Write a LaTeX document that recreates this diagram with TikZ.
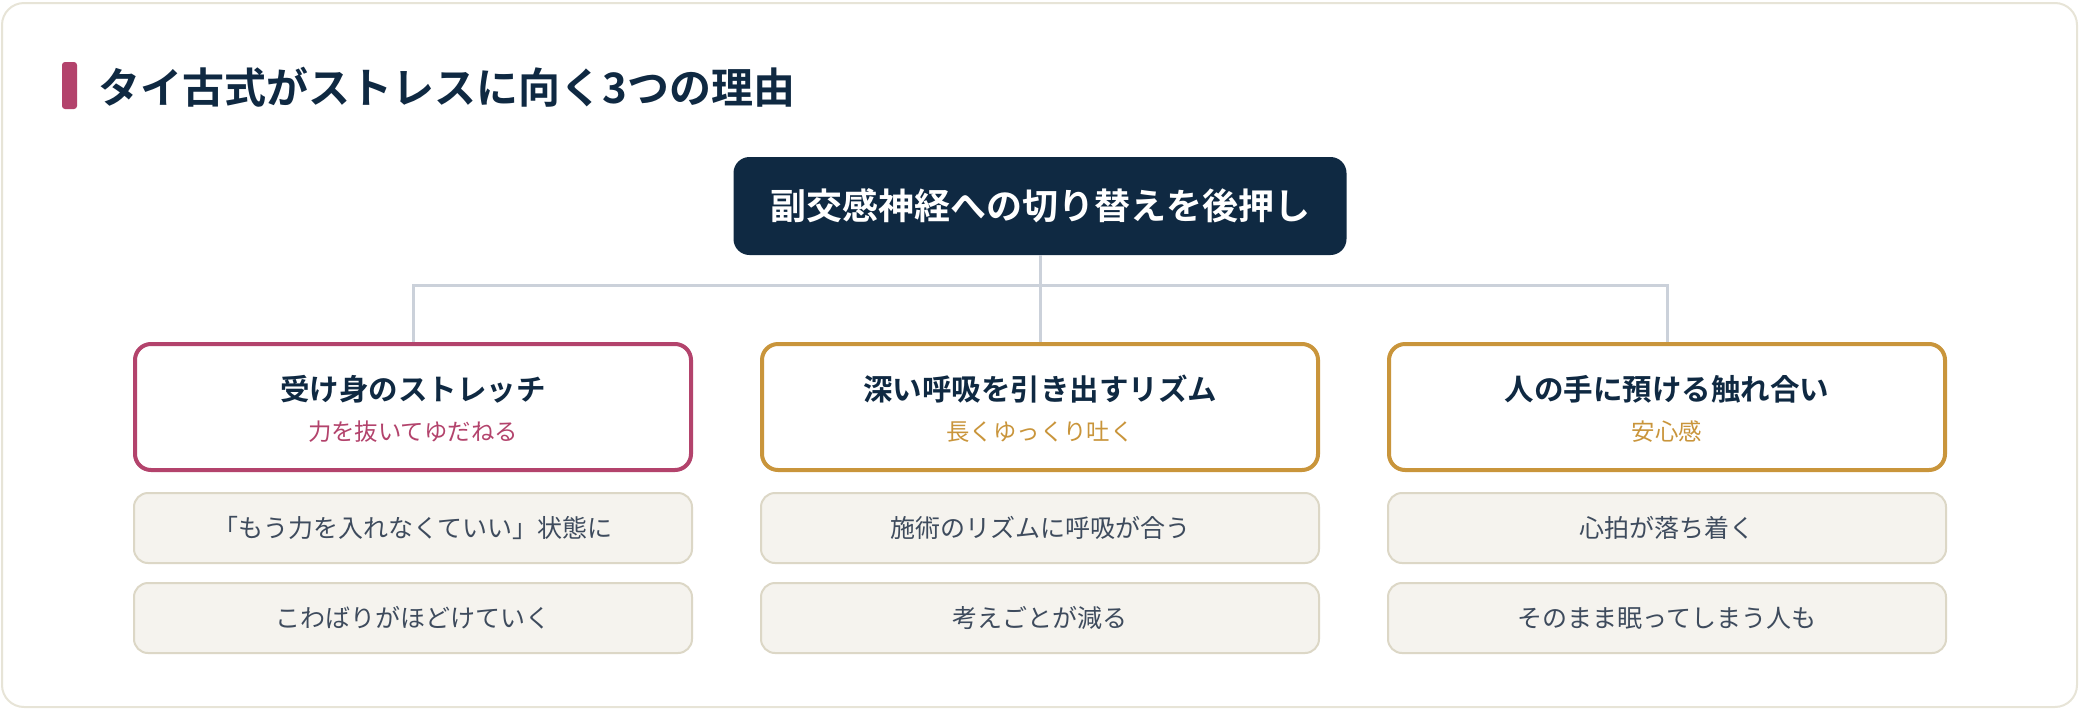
\documentclass[tikz,border=0pt]{standalone}
\usepackage{fontspec}
\setmainfont{Noto Sans CJK JP}[BoldFont={Noto Sans CJK JP Bold}]

\definecolor{navy}{HTML}{0F2942}
\definecolor{rose}{HTML}{B3436C}
\definecolor{gold}{HTML}{C9953B}
\definecolor{linkgray}{HTML}{CBD1DA}
\definecolor{pointfill}{HTML}{F5F3EE}
\definecolor{pointline}{HTML}{DCD7C6}
\definecolor{pointtext}{HTML}{3E4B5D}
\definecolor{cardline}{HTML}{E7E4D7}

\tikzset{
  rootbox/.style={fill=navy, rounded corners=16pt, minimum width=613pt, minimum height=98pt,
    text=white, font=\fontsize{36}{40}\selectfont\bfseries},
  catbox/.style={draw=#1, line width=4pt, fill=white, rounded corners=16pt,
    minimum width=556pt, minimum height=126pt},
  cattitle/.style={text=navy, font=\fontsize{29.5}{32}\selectfont\bfseries},
  catsub/.style={text=#1, font=\fontsize{23.4}{26}\selectfont},
  pointbox/.style={draw=pointline, line width=2pt, fill=pointfill, rounded corners=14pt,
    minimum width=558pt, minimum height=70pt, text=pointtext, font=\fontsize{25}{28}\selectfont},
  link/.style={draw=linkgray, line width=3pt},
}

\begin{document}
\begin{tikzpicture}[x=1pt,y=1pt]

  % Card behind everything
  \useasboundingbox (0,0) rectangle (2080,-710);
  \draw[cardline, line width=2pt, fill=white, rounded corners=22pt] (2,-3) rectangle (2077,-707);

  % Heading with accent bar
  \fill[rose, rounded corners=3pt] (62,-62) rectangle (77,-109);
  \node[anchor=west, text=navy, font=\fontsize{42}{46}\selectfont\bfseries] (heading) at (95,-87) {タイ古式がストレスに向く3つの理由};

  % Root node
  \node[rootbox] (root) at (1040,-206) {副交感神経への切り替えを後押し};
  \coordinate (hub) at (1040,-285);

  % Three columns: category box, two points below
  \foreach \i/\x/\col/\ttl/\sub/\pa/\pb in {
      1/413/rose/受け身のストレッチ/力を抜いてゆだねる/「もう力を入れなくていい」状態に/こわばりがほどけていく,
      2/1040/gold/深い呼吸を引き出すリズム/長くゆっくり吐く/施術のリズムに呼吸が合う/考えごとが減る,
      3/1667/gold/人の手に預ける触れ合い/安心感/心拍が落ち着く/そのまま眠ってしまう人も} {
    \node[catbox=\col] (cat\i) at (\x,-407) {};
    \node[cattitle] (title\i) at (\x,-389) {\ttl};
    \node[catsub=\col] (sub\i) at (\x,-432) {\sub};
    \node[pointbox] (pa\i) at (\x,-528) {\pa};
    \node[pointbox] (pb\i) at (\x,-618) {\pb};
  }

  % Connectors
  \draw[link] (root.south) -- (hub);
  \draw[link] (hub) -| (cat1.north);
  \draw[link] (hub) -| (cat3.north);
  \draw[link] (hub) -- (cat2.north);

\end{tikzpicture}
\end{document}
